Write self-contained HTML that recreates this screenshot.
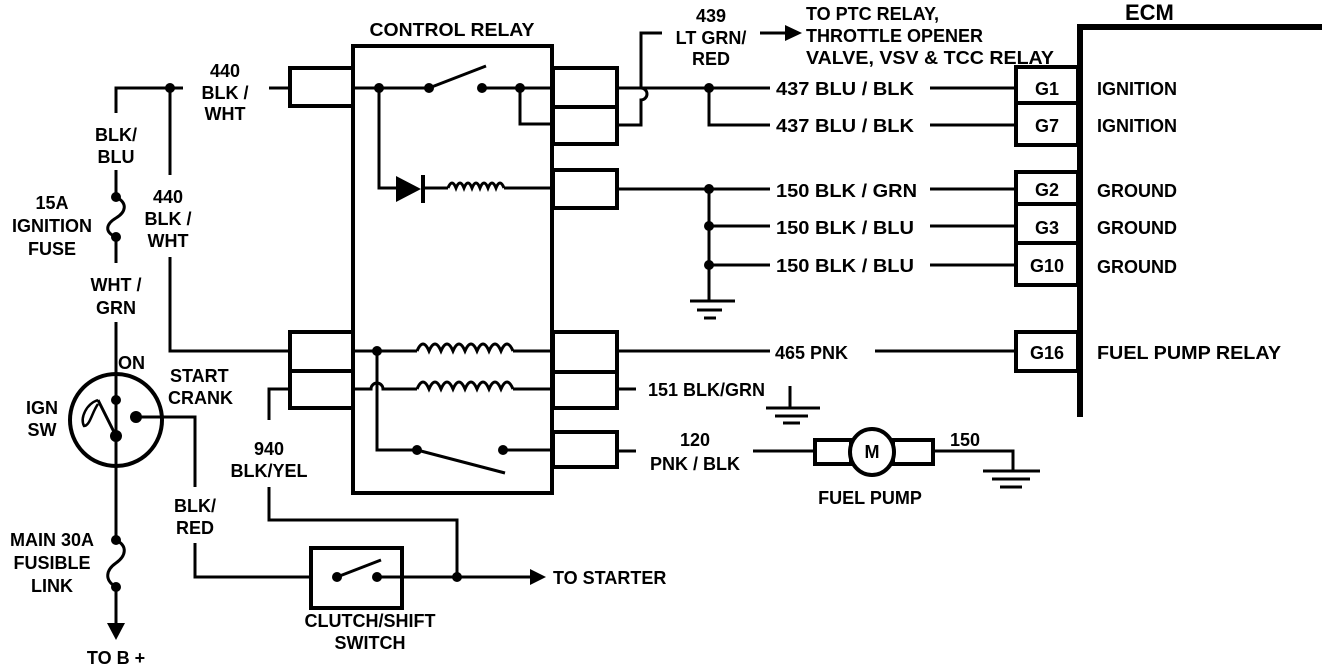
<!DOCTYPE html>
<html><head><meta charset="utf-8"><style>
html,body{margin:0;padding:0;background:#fff;}
svg{display:block}
text{font-family:"Liberation Sans",sans-serif;font-weight:bold;font-size:18px;fill:#000}
</style></head><body>
<svg width="1328" height="666" viewBox="0 0 1328 666" xmlns="http://www.w3.org/2000/svg">
<g fill="none" stroke="#000" stroke-width="3">
<rect x="353" y="46" width="199" height="447" stroke-width="4"/>
<rect x="290" y="68" width="63" height="38" stroke-width="4"/>
<rect x="290" y="332" width="63" height="39" stroke-width="4"/>
<rect x="290" y="371" width="63" height="37" stroke-width="4"/>
<rect x="553" y="68" width="64" height="39" stroke-width="4"/>
<rect x="553" y="107" width="64" height="37" stroke-width="4"/>
<rect x="553" y="170" width="64" height="38" stroke-width="4"/>
<rect x="553" y="332" width="64" height="40" stroke-width="4"/>
<rect x="553" y="372" width="64" height="36" stroke-width="4"/>
<rect x="553" y="432" width="64" height="35" stroke-width="4"/>
<path d="M1080 417 V27 H1322" stroke-width="6"/>
<rect x="1016" y="67" width="62" height="36" stroke-width="4"/>
<rect x="1016" y="103" width="62" height="42" stroke-width="4"/>
<rect x="1016" y="172" width="62" height="32" stroke-width="4"/>
<rect x="1016" y="204" width="62" height="39" stroke-width="4"/>
<rect x="1016" y="243" width="62" height="42" stroke-width="4"/>
<rect x="1016" y="332" width="62" height="39" stroke-width="4"/>
<path d="M116 113 V88 H183"/>
<path d="M170 88 V175"/>
<path d="M170 257 V351 H290"/>
<path d="M269 88 H290"/>
<path d="M116 170 V197"/>
<path d="M116 197 C128 203 126 212 116 218 C106 224 104 232 116 237"/>
<path d="M116 237 V263"/>
<path d="M116 322 V540"/>
<path d="M116 540 C128 546 126 556 116 563 C106 570 104 580 116 587"/>
<path d="M116 587 V626"/>
<path d="M353 88 H429 M482 88 H553"/>
<path d="M429 88 L486 66"/>
<path d="M520 88 V124 H553"/>
<path d="M379 88 V188 H396"/>
<path d="M423 188 H448"/>
<path d="M448 188 q4 -10 8 0 q4 -10 8 0 q4 -10 8 0 q4 -10 8 0 q4 -10 8 0 q4 -10 8 0 q4 -10 8 0"/>
<path d="M504 188 H553"/>
<path d="M353 351 H417 M513 351 H553"/>
<path d="M417 351 q6 -14 12 0 q6 -14 12 0 q6 -14 12 0 q6 -14 12 0 q6 -14 12 0 q6 -14 12 0 q6 -14 12 0 q6 -14 12 0"/>
<path d="M353 389 H371 a6 6 0 0 1 12 0 H417 M513 389 H553"/>
<path d="M417 389 q6 -14 12 0 q6 -14 12 0 q6 -14 12 0 q6 -14 12 0 q6 -14 12 0 q6 -14 12 0 q6 -14 12 0 q6 -14 12 0"/>
<path d="M377 351 V450 H417"/>
<path d="M417 450 L505 473"/>
<path d="M503 450 H553"/>
<path d="M290 389 H269 V420"/>
<path d="M269 487 V520 H457 V577"/>
<circle cx="116" cy="420" r="46" stroke-width="4"/>
<path d="M116 436 L98 400"/>
<path d="M98 400 C86 404 80 418 84 426 C90 426 92 412 98 404" stroke-width="2.5"/>
<path d="M136 417 H195 V487"/>
<path d="M195 543 V577 H311"/>
<rect x="311" y="548" width="91" height="60" stroke-width="4"/>
<path d="M337 577 L381 560"/>
<path d="M377 577 H532"/>
<path d="M617 88 H641 a6 6 0 0 1 0 12 V125 H617" />
<path d="M641 88 V33 H662"/>
<path d="M641 88 H770"/>
<path d="M709 88 V125 H770"/>
<path d="M930 88 H1016 M930 125 H1016"/>
<path d="M760 33 H790"/>
<path d="M617 189 H770"/>
<path d="M709 189 V300"/>
<path d="M709 226 H770 M709 265 H770"/>
<path d="M930 189 H1016 M930 226 H1016 M930 265 H1016"/>
<path d="M690 301 H735 M697 310 H722 M704 318 H716"/>
<path d="M617 351 H770 M875 351 H1016"/>
<path d="M617 389 H636"/>
<path d="M790 386 V408 M766 408 H820 M775 416 H808 M783 423 H800"/>
<path d="M617 451 H636 M753 451 H815"/>
<rect x="815" y="440" width="36" height="24" stroke-width="4"/>
<rect x="893" y="440" width="40" height="24" stroke-width="4"/>
<ellipse cx="872" cy="452" rx="22" ry="23" stroke-width="4" fill="#fff"/>
<path d="M933 451 H1013 V470 M983 471 H1040 M992 479 H1030 M1000 487 H1022"/>
</g>
<g fill="#000">
<circle cx="170" cy="88" r="5"/>
<circle cx="379" cy="88" r="5"/><circle cx="429" cy="88" r="5"/><circle cx="482" cy="88" r="5"/><circle cx="520" cy="88" r="5"/>
<polygon points="396,176 396,202 421,189"/><rect x="421" y="175" width="4" height="28"/>
<circle cx="377" cy="351" r="5"/><circle cx="417" cy="450" r="5"/><circle cx="503" cy="450" r="5"/>
<circle cx="116" cy="197" r="5"/><circle cx="116" cy="237" r="5"/>
<circle cx="116" cy="540" r="5"/><circle cx="116" cy="587" r="5"/>
<circle cx="116" cy="400" r="5"/><circle cx="116" cy="436" r="6"/><circle cx="136" cy="417" r="6"/>
<circle cx="337" cy="577" r="5"/><circle cx="377" cy="577" r="5"/><circle cx="457" cy="577" r="5"/>
<polygon points="107,623 125,623 116,640"/>
<polygon points="530,569 530,585 546,577"/>
<polygon points="785,25 785,41 802,33"/>
<circle cx="709" cy="88" r="5"/><circle cx="709" cy="189" r="5"/><circle cx="709" cy="226" r="5"/><circle cx="709" cy="265" r="5"/>
</g>
<g>
<text x="452" y="36" text-anchor="middle" textLength="165" lengthAdjust="spacingAndGlyphs">CONTROL RELAY</text>
<text x="225" y="77" text-anchor="middle">440</text>
<text x="225" y="99" text-anchor="middle">BLK /</text>
<text x="225" y="120" text-anchor="middle">WHT</text>
<text x="116" y="141" text-anchor="middle">BLK/</text>
<text x="116" y="163" text-anchor="middle">BLU</text>
<text x="52" y="209" text-anchor="middle">15A</text>
<text x="52" y="232" text-anchor="middle">IGNITION</text>
<text x="52" y="255" text-anchor="middle">FUSE</text>
<text x="168" y="203" text-anchor="middle">440</text>
<text x="168" y="225" text-anchor="middle">BLK /</text>
<text x="168" y="247" text-anchor="middle">WHT</text>
<text x="116" y="291" text-anchor="middle">WHT /</text>
<text x="116" y="314" text-anchor="middle">GRN</text>
<text x="118" y="369">ON</text>
<text x="170" y="382">START</text>
<text x="168" y="404">CRANK</text>
<text x="42" y="414" text-anchor="middle">IGN</text>
<text x="42" y="436" text-anchor="middle">SW</text>
<text x="269" y="455" text-anchor="middle">940</text>
<text x="269" y="477" text-anchor="middle">BLK/YEL</text>
<text x="195" y="512" text-anchor="middle">BLK/</text>
<text x="195" y="534" text-anchor="middle">RED</text>
<text x="52" y="546" text-anchor="middle">MAIN 30A</text>
<text x="52" y="569" text-anchor="middle">FUSIBLE</text>
<text x="52" y="592" text-anchor="middle">LINK</text>
<text x="116" y="664" text-anchor="middle">TO B +</text>
<text x="553" y="584">TO STARTER</text>
<text x="370" y="627" text-anchor="middle">CLUTCH/SHIFT</text>
<text x="370" y="649" text-anchor="middle">SWITCH</text>
<text x="711" y="22" text-anchor="middle">439</text>
<text x="711" y="44" text-anchor="middle">LT GRN/</text>
<text x="711" y="65" text-anchor="middle">RED</text>
<text x="806" y="20">TO PTC RELAY,</text>
<text x="806" y="42">THROTTLE OPENER</text>
<text x="806" y="64" textLength="248" lengthAdjust="spacingAndGlyphs">VALVE, VSV &amp; TCC RELAY</text>
<text x="1125" y="20" style="font-size:22px">ECM</text>
<text x="776" y="95" textLength="138" lengthAdjust="spacingAndGlyphs">437 BLU / BLK</text>
<text x="776" y="132" textLength="138" lengthAdjust="spacingAndGlyphs">437 BLU / BLK</text>
<text x="776" y="197" textLength="141" lengthAdjust="spacingAndGlyphs">150 BLK / GRN</text>
<text x="776" y="234" textLength="138" lengthAdjust="spacingAndGlyphs">150 BLK / BLU</text>
<text x="776" y="272" textLength="138" lengthAdjust="spacingAndGlyphs">150 BLK / BLU</text>
<text x="775" y="359">465 PNK</text>
<text x="648" y="396">151 BLK/GRN</text>
<text x="695" y="446" text-anchor="middle">120</text>
<text x="695" y="470" text-anchor="middle">PNK / BLK</text>
<text x="872" y="458" text-anchor="middle">M</text>
<text x="965" y="446" text-anchor="middle">150</text>
<text x="870" y="504" text-anchor="middle">FUEL PUMP</text>
<text x="1047" y="95" text-anchor="middle">G1</text>
<text x="1047" y="132" text-anchor="middle">G7</text>
<text x="1047" y="196" text-anchor="middle">G2</text>
<text x="1047" y="234" text-anchor="middle">G3</text>
<text x="1047" y="272" text-anchor="middle">G10</text>
<text x="1047" y="359" text-anchor="middle">G16</text>
<text x="1097" y="95">IGNITION</text>
<text x="1097" y="132">IGNITION</text>
<text x="1097" y="197">GROUND</text>
<text x="1097" y="234">GROUND</text>
<text x="1097" y="273">GROUND</text>
<text x="1097" y="359" textLength="184" lengthAdjust="spacingAndGlyphs">FUEL PUMP RELAY</text>
</g>
</svg>
</body></html>
